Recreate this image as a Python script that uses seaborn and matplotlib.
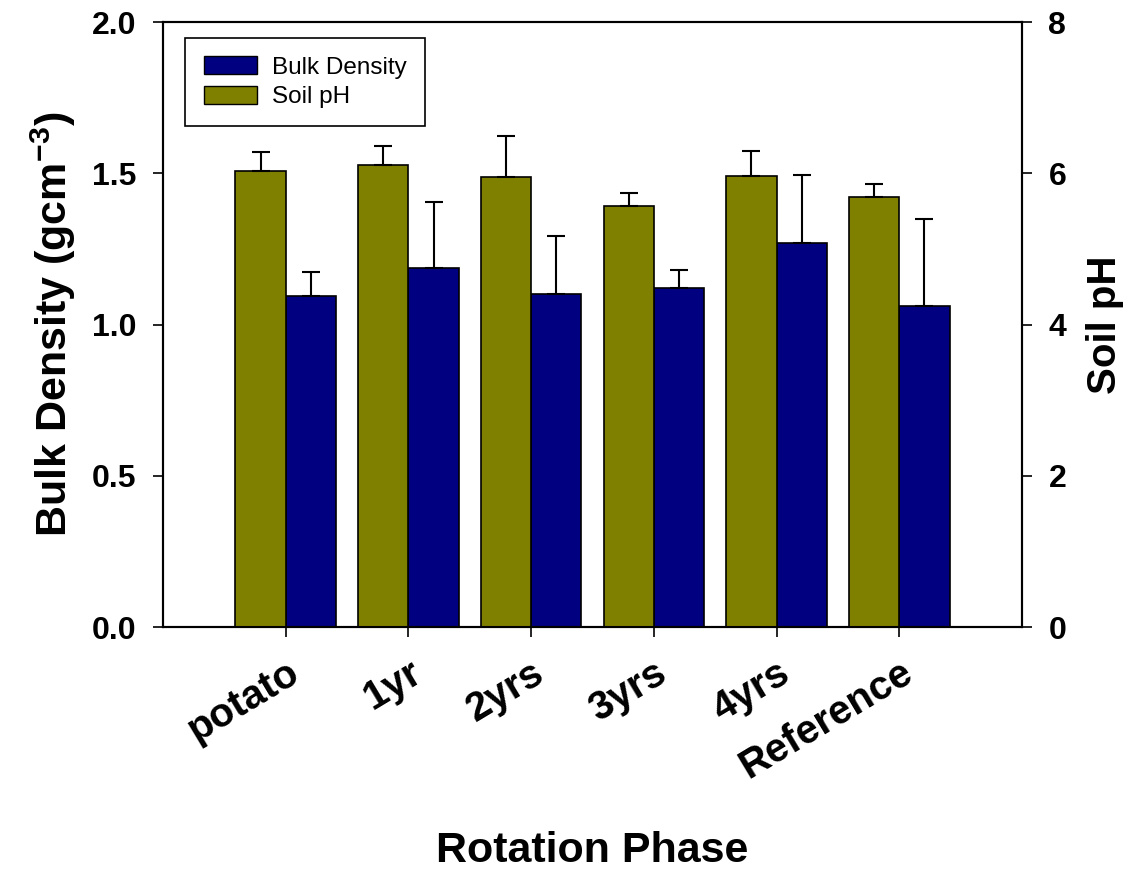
import numpy as np
import pandas as pd
import matplotlib
matplotlib.use("Agg")
import matplotlib.pyplot as plt
import seaborn as sns
from matplotlib.patches import Patch

phases = ["potato", "1yr", "2yrs", "3yrs", "4yrs", "Reference"]
bulk_density = [1.094, 1.187, 1.101, 1.121, 1.269, 1.061]
bulk_density_err = [0.080, 0.218, 0.192, 0.059, 0.225, 0.288]
soil_ph = [6.03, 6.11, 5.95, 5.57, 5.97, 5.69]
soil_ph_err = [0.25, 0.25, 0.54, 0.17, 0.33, 0.17]

OLIVE = "#808000"
NAVY = "#000080"
SERIES = ["Soil pH", "Bulk Density"]
PALETTE = {"Soil pH": OLIVE, "Bulk Density": NAVY}

sns.set_style("ticks")
plt.rcParams["font.family"] = ["Liberation Sans", "DejaVu Sans"]
plt.rcParams["font.weight"] = "bold"
plt.rcParams["mathtext.fontset"] = "custom"
plt.rcParams["mathtext.bf"] = "Liberation Sans:bold"
plt.rcParams["mathtext.rm"] = "Liberation Sans:bold"
plt.rcParams["axes.linewidth"] = 1.5
plt.rcParams["axes.edgecolor"] = "black"
plt.rcParams["text.color"] = "black"
plt.rcParams["axes.labelcolor"] = "black"
plt.rcParams["xtick.color"] = "black"
plt.rcParams["ytick.color"] = "black"


def bars(axis, values, err, name):
    data = pd.DataFrame({"phase": phases, "value": values, "series": name})
    sns.barplot(data=data, x="phase", y="value", hue="series", hue_order=SERIES,
                order=phases, palette=PALETTE, width=0.82, dodge=True,
                saturation=1, edgecolor="black", linewidth=1.2, legend=False,
                errorbar=None, ax=axis)
    patches = sorted([p for p in axis.patches if p.get_height() > 0],
                     key=lambda p: p.get_x())
    xs = [p.get_x() + p.get_width() / 2 for p in patches]
    hs = [p.get_height() for p in patches]
    axis.errorbar(xs, hs, yerr=[np.zeros(len(err)), err], fmt="none",
                  ecolor="black", elinewidth=1.5, capsize=6.5, capthick=1.5)


fig = plt.figure(figsize=(11.4, 8.71), dpi=100)
ax = fig.add_axes([0.143, 0.28, 0.7535, 0.6945])
ax2 = ax.twinx()

bars(ax, bulk_density, bulk_density_err, "Bulk Density")
bars(ax2, soil_ph, soil_ph_err, "Soil pH")

ax.set_xlim(-1, 6)
ax.set_ylim(0, 2.0)
ax2.set_ylim(0, 8)
ax.set_yticks([0, 0.5, 1.0, 1.5, 2.0])
ax.set_yticklabels([f"{v:.1f}" for v in [0, 0.5, 1.0, 1.5, 2.0]])
ax2.set_yticks([0, 2, 4, 6, 8])
ax.set_xticks(range(len(phases)))
ax.set_xticklabels(phases, rotation=31, ha="right", rotation_mode="anchor",
                   fontsize=29, fontweight="bold")

ax.tick_params(axis="both", direction="out", length=7, width=1.2, color="black")
ax.tick_params(axis="y", labelsize=23, pad=12)
ax.tick_params(axis="x", pad=12)
ax2.tick_params(axis="y", direction="out", length=7, width=1.2, labelsize=23, pad=12)

ax.set_ylabel("Bulk Density (gcm$^{\\bf{-3}}$)", fontsize=31, fontweight="bold", labelpad=10)
ax2.set_ylabel("Soil pH", fontsize=29, fontweight="bold", labelpad=14)
ax.set_xlabel("Rotation Phase", fontsize=31, fontweight="bold", labelpad=32)

handles = [Patch(facecolor=NAVY, edgecolor="black", label="Bulk Density"),
           Patch(facecolor=OLIVE, edgecolor="black", label="Soil pH")]
leg = ax2.legend(handles=handles, loc="upper left", bbox_to_anchor=(0.026, 0.974),
                 borderaxespad=0, fancybox=False, framealpha=1, edgecolor="black",
                 prop={"weight": "normal", "size": 17.5}, handlelength=2.2,
                 handleheight=0.75, handletextpad=0.6, labelspacing=0.3,
                 borderpad=0.75)
leg.get_frame().set_linewidth(1.2)

fig.savefig("out.png", dpi=100)
